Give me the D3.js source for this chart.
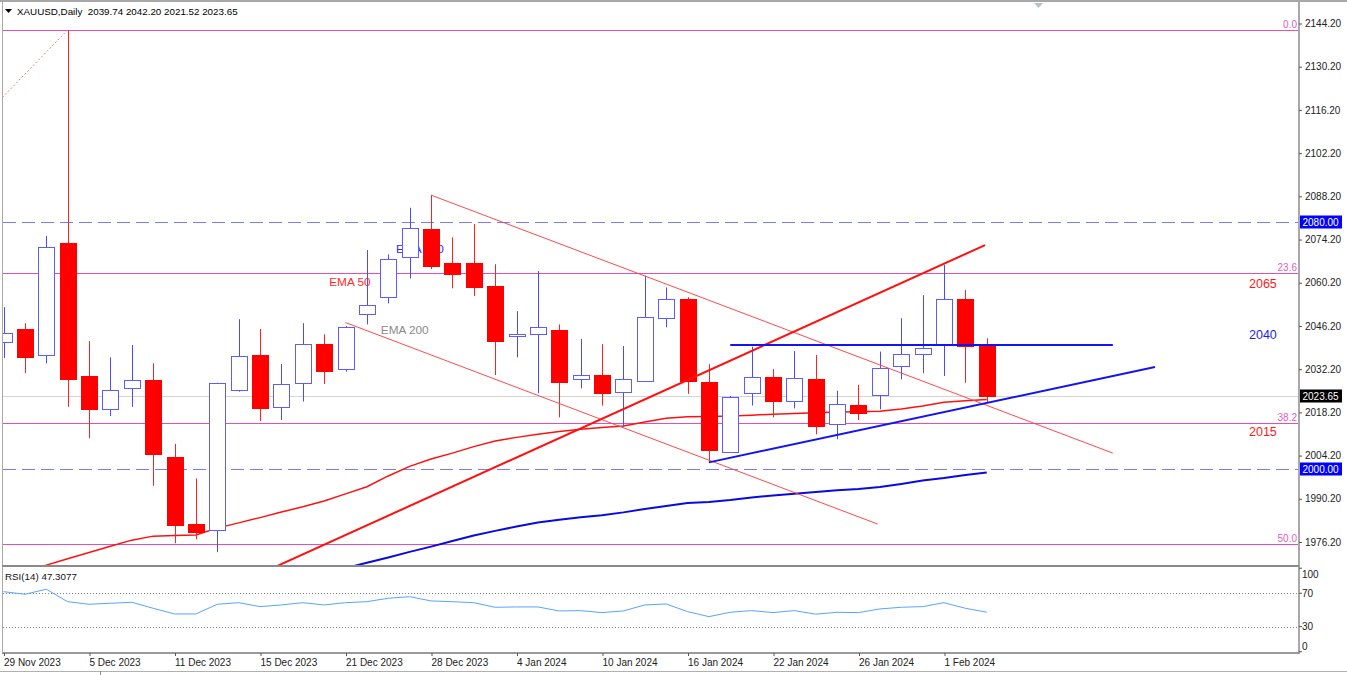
<!DOCTYPE html>
<html><head><meta charset="utf-8">
<script src="https://cdn.jsdelivr.net/npm/d3@7"></script>
<style>
html,body{margin:0;padding:0;background:#fff;}
svg{display:block;font-family:"Liberation Sans",Arial,sans-serif;}
</style></head><body>
<svg id="c" width="1347" height="675"></svg>
<script>
// ---------------- data ----------------
const dates = ["29 Nov 2023","30 Nov 2023","1 Dec 2023","4 Dec 2023","5 Dec 2023","6 Dec 2023","7 Dec 2023","8 Dec 2023",
 "11 Dec 2023","12 Dec 2023","13 Dec 2023","14 Dec 2023","15 Dec 2023","18 Dec 2023","19 Dec 2023","20 Dec 2023",
 "21 Dec 2023","22 Dec 2023","26 Dec 2023","27 Dec 2023","28 Dec 2023","29 Dec 2023","2 Jan 2024","3 Jan 2024",
 "4 Jan 2024","5 Jan 2024","8 Jan 2024","9 Jan 2024","10 Jan 2024","11 Jan 2024","12 Jan 2024","15 Jan 2024",
 "16 Jan 2024","17 Jan 2024","18 Jan 2024","19 Jan 2024","22 Jan 2024","23 Jan 2024","24 Jan 2024","25 Jan 2024",
 "26 Jan 2024","29 Jan 2024","30 Jan 2024","31 Jan 2024","1 Feb 2024","2 Feb 2024","5 Feb 2024"];
const open  = [2041.1,2045.2,2036.8,2073.0,2030.0,2019.2,2026.0,2028.6,2003.8,1982.0,1980.1,2025.4,2036.8,2019.7,2027.6,2040.3,
 2032.3,2050.0,2055.4,2068.5,2077.5,2066.5,2066.7,2059.2,2043.0,2043.8,2044.9,2028.9,2030.3,2024.7,2028.5,2048.5,
 2054.8,2028.1,2005.5,2024.4,2029.6,2021.7,2028.9,2014.4,2020.6,2023.8,2033.0,2037.3,2040.0,2054.8,2039.74];
const high  = [2052.3,2047.1,2075.4,2142.1,2041.3,2036.0,2040.0,2034.1,2008.0,1996.8,2027.8,2048.4,2045.2,2033.9,2047.1,2043.5,
 2046.2,2070.8,2069.4,2084.5,2088.6,2074.9,2079.2,2066.2,2051.0,2064.0,2046.7,2042.0,2040.3,2039.7,2062.5,2058.7,
 2055.5,2033.8,2023.5,2039.5,2032.2,2038.1,2036.8,2025.2,2027.1,2037.9,2048.7,2056.2,2066.0,2057.9,2042.20];
const low   = [2035.8,2030.9,2034.1,2020.0,2009.8,2017.0,2020.0,1994.4,1975.8,1977.1,1972.9,2024.9,2015.4,2015.7,2021.7,2027.4,
 2031.4,2046.7,2053.5,2061.6,2064.6,2058.4,2055.9,2030.3,2036.0,2024.4,2016.6,2026.0,2020.4,2013.4,2028.3,2045.8,
 2024.2,2002.2,2005.2,2020.4,2016.6,2019.5,2011.1,2009.5,2015.7,2019.2,2028.9,2030.9,2030.0,2027.8,2021.52];
const close = [2044.0,2036.2,2071.9,2029.0,2019.2,2025.4,2028.6,2004.6,1981.7,1979.3,2027.6,2036.5,2019.7,2027.3,2040.3,2031.4,
 2046.0,2053.0,2067.8,2077.8,2065.4,2062.9,2058.9,2041.3,2043.6,2046.0,2027.9,2030.3,2024.6,2028.9,2049.2,2054.8,
 2028.1,2006.2,2023.3,2029.6,2021.7,2029.2,2013.6,2020.8,2018.1,2032.7,2037.0,2039.2,2054.8,2039.7,2023.65];
const ema50 = [1964.9,1966.8,1968.7,1970.8,1972.8,1974.8,1976.8,1978.1,1978.3,1978.5,1980.7,1982.4,1984.1,1985.9,1987.6,1989.5,
 1991.8,1994.1,1997.6,2000.7,2003.1,2005.0,2007.1,2008.9,2010.1,2011.1,2012.0,2012.7,2013.3,2013.8,2015.1,2016.3,
 2016.8,2016.9,2017.0,2017.3,2017.6,2017.8,2018.1,2018.3,2018.4,2018.6,2019.3,2020.3,2021.5,2022.0,2022.4];
const ema100 = [null,null,null,null,null,null,null,null,null,null,null,null,null,null,null,
 1966.0,1967.7,1969.5,1971.2,1973.0,1974.7,1976.5,1978.3,1979.8,1981.2,1982.5,1983.4,1984.2,1984.9,1985.8,1986.9,1987.9,
 1988.8,1989.2,1989.8,1990.6,1991.3,1991.8,1992.4,1993.0,1993.4,1994.0,1995.0,1996.1,1996.9,1997.9,1998.7];
const rsi = [71.9,68.8,74.8,59.9,56.8,58.0,59.2,52.0,45.2,45.2,56.8,58.7,54.0,56.0,58.7,56.0,58.7,59.9,64.0,65.9,
 60.8,59.9,58.7,53.2,53.6,53.6,48.8,49.2,46.8,48.8,56.0,57.2,48.0,42.0,47.2,49.2,46.8,49.2,44.9,47.2,
 46.8,51.2,53.2,54.0,58.7,52.0,47.3];
const priceTicks = [2144.2,2130.2,2116.2,2102.2,2088.2,2074.2,2060.2,2046.2,2032.2,2018.2,2004.2,1990.2,1976.2];
const dateTickIdx = [0,4,8,12,16,20,24,28,32,36,40,44];
const rsiTicks = [100,70,30,0];
const rsiLevels = [70,30];
const fibLevels = [0,23.6,38.2,50];
const fibLabels = ["0.0","23.6","38.2","50.0"];
const fibHigh = 2142.1, fibLow = 1809.0;
const fibAnchor = [[-43.5,1809.0],[3,2142.1]];
const roundLevels = [2080,2000];
const lastPrice = 2023.65;
const header = "XAUUSD,Daily  2039.74 2042.20 2021.52 2023.65";
const rsiTitle = "RSI(14) 47.3077";
// trend lines: [i0, p0, i1, p1]
const thinRed = [[20,2088.6,51.9,2005.0],[16,2047.3,40.9,1982.0]];
const thickRed = [[12.7,1968.1,45.92,2072.4]];
const blueLines = [[34,2040.0,51.9,2040.0],[33,2002.0,53.87,2032.9]];
// text annotations: [text, i, price, color]
const notes = [["EMA 100",18.36,2069.8,"#2b2bff"],["EMA 50",15.24,2059.2,"#ff2a2a"],["EMA 200",17.65,2043.6,"#8a8a8a"]];
const levelNotes = [["2065",58.27,2058.5,"#ff1a1a"],["2040",58.27,2042.0,"#1a1aff"],["2015",58.27,2010.5,"#ff1a1a"]];

// ---------------- scales ----------------
const svg = d3.select("#c");
const L = 3, R = 1299, T = 3, MB = 565, RT = 567, RB = 653;
const x = d3.scaleLinear().domain([0,46]).range([3.5,986.75]);
const y = d3.scaleLinear().domain([1976.2,2144.2]).range([542,23.5]);
const yr = d3.scaleLinear().domain([0,100]).range([651.7,568.2]);
const idx = d3.range(open.length);

const defs = svg.append("defs");
defs.append("clipPath").attr("id","cm").append("rect").attr("x",L).attr("y",T).attr("width",R-L).attr("height",MB-T);
defs.append("clipPath").attr("id","cr").append("rect").attr("x",L).attr("y",RT).attr("width",R-L).attr("height",RB-RT);

const main = svg.append("g").attr("clip-path","url(#cm)");
const rp = svg.append("g").attr("clip-path","url(#cr)");

// fib levels
const fibY = l => y(fibHigh - l/100*(fibHigh-fibLow));
main.selectAll(".fib").data(fibLevels).join("line")
  .attr("x1",L).attr("x2",R).attr("y1",d=>Math.round(fibY(d))+0.5).attr("y2",d=>Math.round(fibY(d))+0.5)
  .attr("stroke","#e050b8").attr("stroke-width",1);
main.selectAll(".fibt").data(fibLevels).join("text")
  .attr("x",1297).attr("y",d=>fibY(d)-2).attr("text-anchor","end")
  .attr("font-size",10).attr("fill","#e060c0").text((d,i)=>fibLabels[i]);
main.append("line")
  .attr("x1",x(fibAnchor[0][0])).attr("y1",y(fibAnchor[0][1]))
  .attr("x2",x(fibAnchor[1][0])).attr("y2",y(fibAnchor[1][1]))
  .attr("stroke","#f08080").attr("stroke-width",1).attr("stroke-dasharray","2,2");

// round-number dashed levels
main.selectAll(".rl").data(roundLevels).join("line")
  .attr("x1",L).attr("x2",R).attr("y1",d=>Math.round(y(d))+0.5).attr("y2",d=>Math.round(y(d))+0.5)
  .attr("stroke","#7c7cf6").attr("stroke-width",1).attr("stroke-dasharray","13,6");

// last price line
main.append("line").attr("x1",L).attr("x2",R)
  .attr("y1",Math.round(y(lastPrice))+0.5).attr("y2",Math.round(y(lastPrice))+0.5)
  .attr("stroke","#d4d4d4").attr("stroke-width",1);

// EMA labels (drawn under candles)
main.selectAll(".note").data(notes).join("text")
  .attr("x",d=>x(d[1])).attr("y",d=>y(d[2])).attr("font-size",11.8).attr("fill",d=>d[3]).text(d=>d[0]);

// EMA lines
const lineGen = d3.line().defined(d=>d[1]!=null).x(d=>x(d[0])).y(d=>y(d[1]));
main.append("path").attr("d",lineGen(idx.map(i=>[i,ema50[i]])))
  .attr("fill","none").attr("stroke","#ff1010").attr("stroke-width",1.5);
main.append("path").attr("d",lineGen(idx.map(i=>[i,ema100[i]])))
  .attr("fill","none").attr("stroke","#0a0ae0").attr("stroke-width",2);

// candles
const cx = i => Math.round(x(i)) + 0.5;
const bull = i => close[i] >= open[i];
const cg = main.append("g");
cg.selectAll(".wick").data(idx).join("line")
  .attr("x1",cx).attr("x2",cx).attr("y1",i=>y(high[i])).attr("y2",i=>y(low[i]))
  .attr("stroke",i=>bull(i)?"#4a4aff":"#ff2020").attr("stroke-width",1);
cg.selectAll(".body").data(idx).join("rect")
  .attr("x",i=>cx(i)-8).attr("width",16)
  .attr("y",i=>Math.round(y(Math.max(open[i],close[i])))+0.5)
  .attr("height",i=>Math.max(1,Math.round(Math.abs(y(open[i])-y(close[i])))))
  .attr("fill",i=>bull(i)?"#ffffff":"#ff0000")
  .attr("stroke",i=>bull(i)?"#5c5cff":"#ff0000").attr("stroke-width",1);

// trend lines
const seg = (g,data,color,w)=> g.selectAll(null).data(data).join("line")
  .attr("x1",d=>x(d[0])).attr("y1",d=>y(d[1])).attr("x2",d=>x(d[2])).attr("y2",d=>y(d[3]))
  .attr("stroke",color).attr("stroke-width",w);
seg(main,thinRed,"#ff4a4a",1);
seg(main,thickRed,"#ff1010",2);
seg(main,blueLines,"#1414f0",2);

// level notes
main.selectAll(".ln").data(levelNotes).join("text")
  .attr("x",d=>x(d[1])).attr("y",d=>y(d[2])).attr("font-size",12.5).attr("fill",d=>d[3]).text(d=>d[0]);

// ---------------- RSI panel ----------------
rp.selectAll(".rlv").data(rsiLevels).join("line")
  .attr("x1",L).attr("x2",R).attr("y1",d=>Math.round(yr(d))+0.5).attr("y2",d=>Math.round(yr(d))+0.5)
  .attr("stroke","#808080").attr("stroke-width",1).attr("stroke-dasharray","1,2");
rp.append("path").attr("d",d3.line().x(d=>x(d[0])).y(d=>yr(d[1]))(idx.map(i=>[i,rsi[i]])))
  .attr("fill","none").attr("stroke","#58a4ff").attr("stroke-width",1);
svg.append("text").attr("x",5).attr("y",580).attr("font-size",9.8).attr("fill","#111").text(rsiTitle);

// ---------------- frames ----------------
const frame = svg.append("g").attr("stroke","#a8a8a8");
frame.append("line").attr("x1",0).attr("x2",1347).attr("y1",1).attr("y2",1).attr("stroke-width",2);
frame.append("line").attr("x1",2.5).attr("x2",2.5).attr("y1",2).attr("y2",RB);
frame.append("line").attr("x1",R).attr("x2",R).attr("y1",2).attr("y2",RB+1).attr("stroke-width",2);
frame.append("line").attr("x1",2).attr("x2",R).attr("y1",566).attr("y2",566).attr("stroke-width",2).attr("stroke","#8a8a8a");
frame.append("line").attr("x1",2).attr("x2",R).attr("y1",RB).attr("y2",RB).attr("stroke-width",2).attr("stroke","#9a9a9a");
frame.append("line").attr("x1",0).attr("x2",1347).attr("y1",671.5).attr("y2",671.5).attr("stroke","#b0b0b0");
frame.append("line").attr("x1",100.5).attr("x2",100.5).attr("y1",671).attr("y2",675).attr("stroke","#909090");

// top chart-shift marker
svg.append("path").attr("d","M1034,3 L1043,3 L1038.5,8 Z").attr("fill","#b8c0c8");

// header
svg.append("path").attr("d","M5,9 L12,9 L8.5,13 Z").attr("fill","#000");
svg.append("text").attr("x",17).attr("y",15).attr("font-size",9.8).attr("fill","#000")
  .attr("xml:space","preserve").style("white-space","pre").text(header);

// ---------------- price axis ----------------
const pa = svg.append("g").attr("transform",`translate(${R},0)`)
  .call(d3.axisRight(y).tickValues(priceTicks).tickFormat(d3.format(".2f")).tickSize(3).tickPadding(3));
pa.select(".domain").remove();
pa.selectAll("line").attr("stroke","#555");
pa.selectAll("text").attr("font-size",10).attr("fill","#222").attr("font-family","Liberation Sans, Arial");

// badges
const badges = [[2080,"#0000ff"],[2000,"#0000ff"],[lastPrice,"#000000"]];
const bg = svg.append("g");
bg.selectAll("rect").data(badges).join("rect")
  .attr("x",R+1).attr("y",d=>Math.round(y(d[0]))-6.5).attr("width",42).attr("height",13).attr("fill",d=>d[1]);
bg.selectAll("text").data(badges).join("text")
  .attr("x",R+3.5).attr("y",d=>Math.round(y(d[0]))+3.5).attr("font-size",10).attr("fill","#fff")
  .text(d=>d3.format(".2f")(d[0]));

// RSI axis
const ra = svg.append("g").attr("transform",`translate(${R},0)`);
ra.selectAll("line").data(rsiTicks).join("line")
  .attr("x1",0).attr("x2",3).attr("y1",d=>yr(d)).attr("y2",d=>yr(d)).attr("stroke","#555");
ra.selectAll("text").data(rsiTicks).join("text")
  .attr("x",3).attr("y",d=>Math.max(RT+7,Math.min(RB-7,yr(d)))+3.5)
  .attr("font-size",10).attr("fill","#222").text(d=>d);

// ---------------- date axis ----------------
const da = svg.append("g").attr("transform",`translate(0,${RB})`)
  .call(d3.axisBottom(x).tickValues(dateTickIdx).tickFormat(i=>dates[i]).tickSize(3));
da.select(".domain").remove();
da.selectAll("line").attr("stroke","#555").attr("transform","translate(0.5,0)");
da.selectAll("text").attr("text-anchor","start").attr("dx",0).attr("dy",0).attr("y",12.5)
  .attr("font-size",10).attr("fill","#222").attr("font-family","Liberation Sans, Arial");
</script>
</body></html>
